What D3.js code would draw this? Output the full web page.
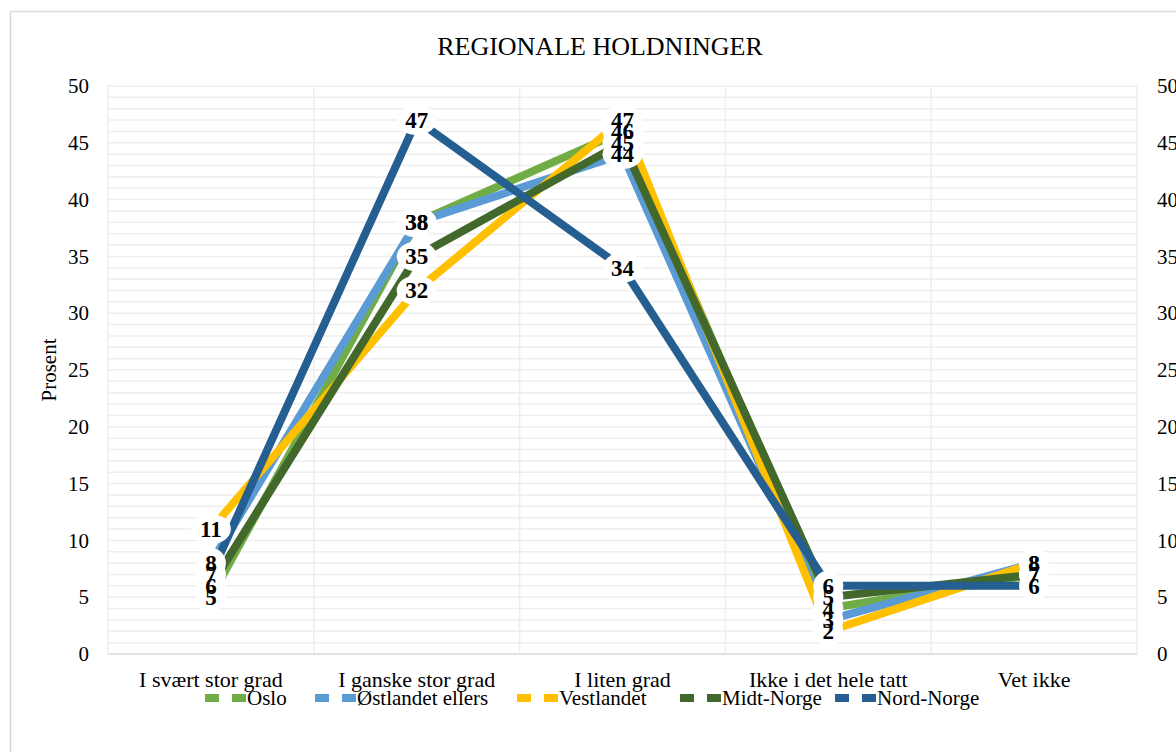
<!DOCTYPE html>
<html>
<head>
<meta charset="utf-8">
<script src="https://cdn.jsdelivr.net/npm/d3@7"></script>
<style>
  body { margin: 0; background: #fff; }
  text { font-family: "Liberation Serif", "Times New Roman", serif; fill: #000; }
</style>
</head>
<body>
<div id="chart"></div>
<script>
// chart data
const categories = ["I svært stor grad", "I ganske stor grad", "I liten grad", "Ikke i det hele tatt", "Vet ikke"];
const seriesNames = ["Oslo", "Østlandet ellers", "Vestlandet", "Midt-Norge", "Nord-Norge"];
const oslo = [5, 38, 46, 4, 7];
const ostlandet = [8, 38, 44, 3, 8];
const vestlandet = [11, 32, 47, 2, 8];
const midtNorge = [6, 35, 45, 5, 7];
const nordNorge = [7, 47, 34, 6, 6];
const yTicks = [0, 5, 10, 15, 20, 25, 30, 35, 40, 45, 50];

const colors = ["#70ad47", "#5b9bd5", "#ffc000", "#43682b", "#255e91"];
const series = [oslo, ostlandet, vestlandet, midtNorge, nordNorge].map((values, i) => ({
    name: seriesNames[i], color: colors[i], values
}));

const width = 1176, height = 752;
const margin = { top: 86, right: 39, bottom: 98, left: 108 };

const svg = d3.select("#chart").append("svg")
    .attr("width", width)
    .attr("height", height);

// outer frame
svg.append("rect")
    .attr("x", 10.5).attr("y", 11.5)
    .attr("width", width).attr("height", height)
    .attr("fill", "#fff")
    .attr("stroke", "#d9d9d9")
    .attr("stroke-width", 1.5);

const x = d3.scaleBand()
    .domain(categories)
    .range([margin.left, width - margin.right]);

const y = d3.scaleLinear()
    .domain([0, 50])
    .range([height - margin.bottom, margin.top]);

// horizontal gridlines every 1 unit
svg.append("g")
    .selectAll("line")
    .data(d3.range(1, 51))
    .join("line")
    .attr("x1", margin.left).attr("x2", width - margin.right)
    .attr("y1", d => y(d)).attr("y2", d => y(d))
    .attr("stroke", "#eeeeee")
    .attr("stroke-width", 1.5);

// vertical gridlines at category boundaries
svg.append("g")
    .selectAll("line")
    .data(categories.map(c => x(c)).concat([width - margin.right]))
    .join("line")
    .attr("x1", d => d).attr("x2", d => d)
    .attr("y1", y(50)).attr("y2", y(0))
    .attr("stroke", "#eeeeee")
    .attr("stroke-width", 1.5);

// x axis line
svg.append("line")
    .attr("x1", margin.left).attr("x2", width - margin.right)
    .attr("y1", y(0)).attr("y2", y(0))
    .attr("stroke", "#d9d9d9")
    .attr("stroke-width", 1.5);

// left axis
svg.append("g")
    .attr("transform", `translate(${margin.left},0)`)
    .call(d3.axisLeft(y).tickValues(yTicks).tickSize(0).tickPadding(19))
    .call(g => g.select(".domain").remove())
    .call(g => g.selectAll("text").attr("font-size", 21).style("font-family", "Liberation Serif"));

// right axis
svg.append("g")
    .attr("transform", `translate(${width - margin.right},0)`)
    .call(d3.axisRight(y).tickValues(yTicks).tickSize(0).tickPadding(20))
    .call(g => g.select(".domain").remove())
    .call(g => g.selectAll("text").attr("font-size", 21).style("font-family", "Liberation Serif"));

// x axis labels
svg.append("g")
    .attr("transform", `translate(0,${y(0)})`)
    .call(d3.axisBottom(x).tickSize(0).tickPadding(17))
    .call(g => g.select(".domain").remove())
    .call(g => g.selectAll("text").attr("font-size", 22).style("font-family", "Liberation Serif"));

// title
svg.append("text")
    .attr("x", 600).attr("y", 55)
    .attr("text-anchor", "middle")
    .attr("font-size", 26)
    .text("REGIONALE HOLDNINGER");

// y title
svg.append("text")
    .attr("transform", `translate(56,${(y(0) + y(50)) / 2}) rotate(-90)`)
    .attr("text-anchor", "middle")
    .attr("font-size", 21)
    .text("Prosent");

// lines
const line = d3.line()
    .x((d, i) => x(categories[i]) + x.bandwidth() / 2)
    .y(d => y(d));

svg.append("g")
    .selectAll("path")
    .data(series)
    .join("path")
    .attr("fill", "none")
    .attr("stroke", d => d.color)
    .attr("stroke-width", 8)
    .attr("d", d => line(d.values));

// data labels with white backgrounds
const labelData = series.flatMap(s => s.values.map((v, i) => ({ v, i })));
const labels = svg.append("g");
labels.selectAll("ellipse")
    .data(labelData)
    .join("ellipse")
    .attr("cx", d => x(categories[d.i]) + x.bandwidth() / 2)
    .attr("cy", d => y(d.v))
    .attr("rx", d => d.v >= 10 ? 20 : 15)
    .attr("ry", 15)
    .attr("fill", "#fff");
labels.selectAll("text")
    .data(labelData)
    .join("text")
    .attr("x", d => x(categories[d.i]) + x.bandwidth() / 2)
    .attr("y", d => y(d.v) + 8)
    .attr("text-anchor", "middle")
    .attr("font-size", 23)
    .attr("font-weight", "bold")
    .text(d => d.v);

// legend
const legendX = [205, 315, 517, 680, 835];
const legend = svg.append("g")
    .selectAll("g")
    .data(series)
    .join("g")
    .attr("transform", (d, i) => `translate(${legendX[i]},698)`);
legend.append("line")
    .attr("x1", 0).attr("x2", 14).attr("y1", 0).attr("y2", 0)
    .attr("stroke", d => d.color).attr("stroke-width", 8);
legend.append("line")
    .attr("x1", 27).attr("x2", 41).attr("y1", 0).attr("y2", 0)
    .attr("stroke", d => d.color).attr("stroke-width", 8);
legend.append("text")
    .attr("x", 42).attr("y", 7)
    .attr("font-size", 21)
    .text(d => d.name);
</script>
</body>
</html>
